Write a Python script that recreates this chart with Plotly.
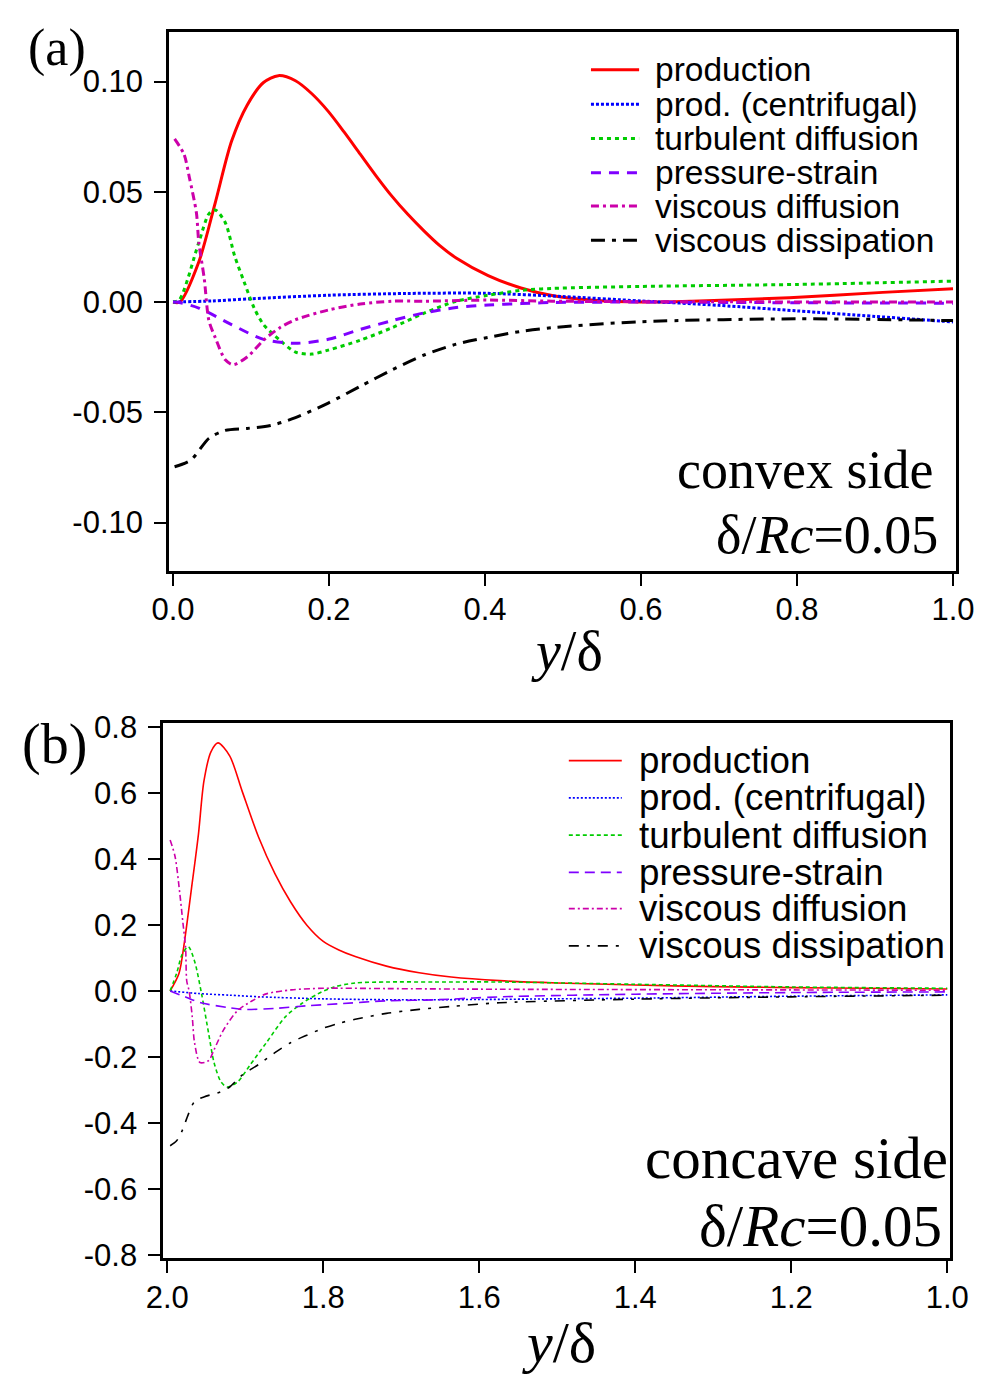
import plotly.graph_objects as go

W, H = 999, 1389

# ---------------- data: (a) convex side ----------------
names = ["production", "prod. (centrifugal)", "turbulent diffusion",
         "pressure-strain", "viscous diffusion", "viscous dissipation"]

a_prod_x = [0.0, 0.0086, 0.033, 0.054, 0.075, 0.095, 0.116, 0.135, 0.157, 0.178, 0.199, 0.219,
            0.240, 0.260, 0.280, 0.301, 0.322, 0.342, 0.363, 0.404, 0.446, 0.486, 0.54, 0.60,
            0.665, 0.79, 0.91, 1.0]
a_prod_y = [0.0, 0.0, 0.0182, 0.0449, 0.0729, 0.0893, 0.0996, 0.1027, 0.1004, 0.0945, 0.0865, 0.0773,
            0.0671, 0.0574, 0.0483, 0.0398, 0.0322, 0.0256, 0.0200, 0.0120, 0.0064, 0.0030, 0.0008, 0.0,
            0.0004, 0.002, 0.0044, 0.006]

a_cent_x = [0.0, 0.05, 0.1, 0.2, 0.3, 0.4, 0.5, 0.6, 0.7, 0.8, 0.9, 1.0]
a_cent_y = [0.0, 0.0005, 0.0015, 0.0031, 0.0039, 0.004, 0.0025, 0.0005, -0.0015, -0.004, -0.0065, -0.009]

a_turb_x = [0.0, 0.008, 0.033, 0.046, 0.054, 0.067, 0.079, 0.091, 0.104, 0.116, 0.137, 0.157,
            0.178, 0.199, 0.240, 0.281, 0.322, 0.363, 0.404, 0.446, 0.486, 0.6, 0.8, 1.0]
a_turb_y = [0.0, 0.001, 0.027, 0.040, 0.0418, 0.036, 0.0209, 0.0093, -0.0027, -0.0102, -0.0173, -0.0227,
            -0.0236, -0.0218, -0.0173, -0.0116, -0.005, 0.0004, 0.0031, 0.0053, 0.0062, 0.0071, 0.008, 0.0095]

a_pres_x = [0.0, 0.005, 0.033, 0.075, 0.116, 0.157, 0.199, 0.240, 0.281, 0.322, 0.363, 0.404,
            0.446, 0.486, 0.6, 0.8, 1.0]
a_pres_y = [0.0, 0.0, -0.0027, -0.0102, -0.0169, -0.0187, -0.0169, -0.0124, -0.0084, -0.0049, -0.0025,
            -0.0013, -0.0007, -0.0002, 0.0, -0.0003, -0.0005]

a_visd_x = [0.002, 0.014, 0.021, 0.030, 0.033, 0.040, 0.046, 0.054, 0.067, 0.077, 0.095, 0.116,
            0.137, 0.157, 0.199, 0.240, 0.281, 0.322, 0.404, 0.486, 0.6, 1.0]
a_visd_y = [0.074, 0.0671, 0.0564, 0.0404, 0.0271, 0.0107, -0.0084, -0.016, -0.0262, -0.0284, -0.0249,
            -0.0173, -0.0116, -0.008, -0.0036, -0.0009, 0.0004, 0.0004, 0.0009, 0.0004, 0.0002, 0.0]

a_diss_x = [0.002, 0.023, 0.046, 0.067, 0.095, 0.125, 0.157, 0.199, 0.240, 0.281, 0.322, 0.363,
            0.404, 0.446, 0.486, 0.6, 0.8, 1.0]
a_diss_y = [-0.0747, -0.0716, -0.0618, -0.0582, -0.0573, -0.056, -0.0524, -0.0458, -0.0382, -0.0307,
            -0.024, -0.0191, -0.016, -0.0133, -0.0116, -0.0089, -0.0076, -0.0084]

# ---------------- data: (b) concave side ----------------
b_prod_x = [1.9963, 1.985, 1.978, 1.969, 1.960, 1.953, 1.944, 1.935, 1.920, 1.904, 1.883, 1.862,
            1.842, 1.821, 1.800, 1.780, 1.759, 1.719, 1.677, 1.636, 1.574, 1.5, 1.4, 1.3, 1.2, 1.1, 1.0]
b_prod_y = [0.0, 0.053, 0.148, 0.309, 0.475, 0.635, 0.724, 0.751, 0.712, 0.605, 0.466, 0.355,
            0.270, 0.199, 0.150, 0.124, 0.104, 0.075, 0.055, 0.042, 0.031, 0.024, 0.018, 0.013, 0.010,
            0.008, 0.006]

b_cent_x = [1.9963, 1.96, 1.92, 1.88, 1.8, 1.7, 1.6, 1.5, 1.4, 1.2, 1.0]
b_cent_y = [0.0, -0.008, -0.013, -0.018, -0.024, -0.027, -0.026, -0.024, -0.022, -0.016, -0.012]

b_turb_x = [1.9963, 1.988, 1.981, 1.973, 1.965, 1.956, 1.947, 1.940, 1.931, 1.923, 1.910, 1.894,
            1.873, 1.848, 1.828, 1.807, 1.786, 1.759, 1.719, 1.657, 1.574, 1.4, 1.2, 1.0]
b_turb_y = [0.0, 0.053, 0.11, 0.134, 0.09, -0.009, -0.128, -0.217, -0.276, -0.291, -0.276, -0.225,
            -0.157, -0.077, -0.039, -0.009, 0.012, 0.024, 0.027, 0.027, 0.027, 0.02, 0.012, 0.008]

b_pres_x = [1.9963, 1.975, 1.957, 1.923, 1.904, 1.862, 1.821, 1.78, 1.719, 1.657, 1.574, 1.4, 1.2, 1.0]
b_pres_y = [0.0, -0.02, -0.036, -0.05, -0.056, -0.053, -0.045, -0.039, -0.03, -0.027, -0.018,
            -0.01, -0.005, -0.003]

b_visd_x = [1.9963, 1.990, 1.984, 1.980, 1.9765, 1.975, 1.972, 1.968, 1.965, 1.958, 1.947, 1.940,
            1.928, 1.910, 1.891, 1.873, 1.841, 1.8, 1.719, 1.574, 1.2, 1.0]
b_visd_y = [0.457, 0.407, 0.297, 0.208, 0.13, 0.03, 0.0, -0.077, -0.157, -0.217, -0.211, -0.178,
            -0.119, -0.06, -0.03, -0.009, 0.003, 0.008, 0.007, 0.005, 0.003, 0.002]

b_diss_x = [1.9963, 1.988, 1.981, 1.973, 1.965, 1.953, 1.932, 1.920, 1.904, 1.883, 1.862, 1.842,
            1.821, 1.8, 1.78, 1.759, 1.719, 1.677, 1.636, 1.574, 1.4, 1.2, 1.0]
b_diss_y = [-0.469, -0.454, -0.424, -0.374, -0.335, -0.321, -0.306, -0.291, -0.255, -0.223, -0.187,
            -0.157, -0.134, -0.113, -0.098, -0.086, -0.068, -0.056, -0.047, -0.036, -0.025, -0.018, -0.013]

a_xticks = [0.0, 0.2, 0.4, 0.6, 0.8, 1.0]
a_xtext = ["0.0", "0.2", "0.4", "0.6", "0.8", "1.0"]
a_yticks = [0.10, 0.05, 0.0, -0.05, -0.10]
a_ytext = ["0.10", "0.05", "0.00", "-0.05", "-0.10"]
b_xticks = [2.0, 1.8, 1.6, 1.4, 1.2, 1.0]
b_xtext = ["2.0", "1.8", "1.6", "1.4", "1.2", "1.0"]
b_yticks = [0.8, 0.6, 0.4, 0.2, 0.0, -0.2, -0.4, -0.6, -0.8]
b_ytext = ["0.8", "0.6", "0.4", "0.2", "0.0", "-0.2", "-0.4", "-0.6", "-0.8"]

# ---------------- styles ----------------
colors = ["#ff0000", "#0000ff", "#00cc00", "#7f00ff", "#cc00aa", "#000000"]
dash_a = ["solid", "3px,2px", "4px,4px", "10px,8px", "8px,4px,3px,4px", "14px,7px,4px,7px"]
dash_b = ["solid", "2px,2px", "4px,3px", "10px,6px", "6px,3px,2px,3px", "10px,8px,3px,8px"]

a_series = [(a_prod_x, a_prod_y), (a_cent_x, a_cent_y), (a_turb_x, a_turb_y),
            (a_pres_x, a_pres_y), (a_visd_x, a_visd_y), (a_diss_x, a_diss_y)]
b_series = [(b_prod_x, b_prod_y), (b_cent_x, b_cent_y), (b_turb_x, b_turb_y),
            (b_pres_x, b_pres_y), (b_visd_x, b_visd_y), (b_diss_x, b_diss_y)]

fig = go.Figure()
for i, (x, y) in enumerate(a_series):
    fig.add_trace(go.Scatter(x=x, y=y, mode="lines", name=names[i], showlegend=False,
                             line=dict(color=colors[i], width=3, dash=dash_a[i],
                                       shape="spline", smoothing=0.8),
                             xaxis="x", yaxis="y"))
for i, (x, y) in enumerate(b_series):
    fig.add_trace(go.Scatter(x=x, y=y, mode="lines", name=names[i], showlegend=False,
                             line=dict(color=colors[i], width=1.6, dash=dash_b[i],
                                       shape="spline", smoothing=0.8),
                             xaxis="x2", yaxis="y2"))

def px(v):
    return v / W

def py(v):
    return 1 - v / H

tickfont = dict(family="Liberation Sans, Arial, sans-serif", size=31, color="black")
axis_common = dict(showline=True, mirror=True, linewidth=3, linecolor="black",
                   ticks="outside", ticklen=12, tickwidth=1.5, tickcolor="black",
                   showgrid=False, zeroline=False, tickfont=tickfont, tickmode="array")

# panel boxes (pixels)
A_L, A_R, A_T, A_B = 157, 974, 18, 568
B_L, B_R, B_T, B_B = 151, 968, 724, 1270

fig.update_layout(
    width=W, height=H, margin=dict(l=0, r=0, t=0, b=0),
    paper_bgcolor="white", plot_bgcolor="white", showlegend=False,
    xaxis=dict(domain=[px(A_L), px(A_R)], range=[-(161 - A_L) / 810, 1 + (A_R - 971) / 810],
               anchor="y", tickvals=a_xticks, ticktext=a_xtext, ticklabelstandoff=-3, **axis_common),
    yaxis=dict(domain=[py(A_B), py(A_T)], range=[-(A_B - 294) / 2250, (294 - A_T) / 2250],
               anchor="x", tickvals=a_yticks, ticktext=a_ytext, ticklabelstandoff=5, **axis_common),
    xaxis2=dict(domain=[px(B_L), px(B_R)], range=[2 + (155 - B_L) / 810, 1 - (B_R - 965) / 810],
                anchor="y2", tickvals=b_xticks, ticktext=b_xtext, ticklabelstandoff=-3, **axis_common),
    yaxis2=dict(domain=[py(B_B), py(B_T)], range=[-(B_B - 997) / 337, (997 - B_T) / 337],
                anchor="x2", tickvals=b_yticks, ticktext=b_ytext, ticklabelstandoff=5, **axis_common),
)

serif = "Liberation Serif, Times New Roman, serif"
sans = "Liberation Sans, Arial, sans-serif"
ann = []

def add_text(x, y, text, size, family, xanchor="center", yanchor="middle"):
    ann.append(dict(x=px(x), y=py(y), xref="paper", yref="paper", text=text, showarrow=False,
                    xanchor=xanchor, yanchor=yanchor, font=dict(family=family, size=size, color="black")))

# panel labels & axis titles
add_text(40, 35, "(a)", 52, serif)
add_text(38, 746, "(b)", 56, serif)
add_text(570, 650, "<i>y</i>/δ", 56, serif)
add_text(562, 1356, "<i>y</i>/δ", 58, serif)

# in-plot labels
add_text(952, 465, "convex side", 54, serif, xanchor="right")
add_text(957, 532, "δ/<i>Rc</i>=0.05", 54, serif, xanchor="right")
add_text(968, 1168, "concave side", 59, serif, xanchor="right")
add_text(962, 1237, "δ/<i>Rc</i>=0.05", 59, serif, xanchor="right")

# legends (manual)
shapes = []
a_rows = [57, 92, 127, 162, 196, 231]
b_rows = [762, 800, 838, 876, 913, 951]
for i, name in enumerate(names):
    shapes.append(dict(type="line", xref="paper", yref="paper", x0=px(595), x1=px(645),
                       y0=py(a_rows[i]), y1=py(a_rows[i]),
                       line=dict(color=colors[i], width=3, dash=dash_a[i])))
    add_text(659, a_rows[i], name, 33.5, sans, xanchor="left")
    shapes.append(dict(type="line", xref="paper", yref="paper", x0=px(572), x1=px(627),
                       y0=py(b_rows[i]), y1=py(b_rows[i]),
                       line=dict(color=colors[i], width=1.6, dash=dash_b[i])))
    add_text(643, b_rows[i], name, 36.7, sans, xanchor="left")

fig.update_layout(annotations=ann, shapes=shapes)
fig.write_html("out.html")
